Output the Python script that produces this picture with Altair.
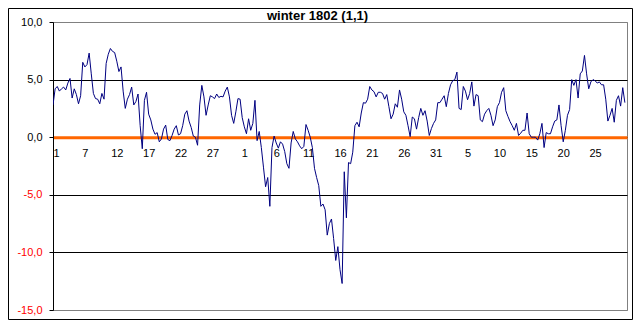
import altair as alt
import pandas as pd

# observations (3 per day), Dec 1801 .. Feb 1802
values = [
    2.8, 4.2, 4.4, 4.0, 4.2, 4.35, 4.1, 4.7, 5.1, 3.4,
    4.2, 3.7, 2.9, 3.6, 6.5, 6.1, 6.3, 7.3, 5.5, 3.8,
    3.35, 3.3, 2.9, 3.8, 3.3, 6.4, 7.2, 7.7, 7.45, 7.35,
    6.6, 5.7, 6.1, 4.0, 2.5, 3.3, 3.7, 4.35, 2.8, 3.1,
    3.75, 1.0, -1.0, 3.2, 3.9, 2.0, 1.5, 0.7, 0.25, 0.4,
    -0.4, -0.15, 0.7, 1.05, -0.2, -0.3, 0.15, 0.7, 1.0, 0.2,
    0.3, 1.0, 2.0, 2.3, 1.4, 0.85, 0.1, 0.0, -0.7, 2.8,
    4.5, 3.5, 1.9, 2.8, 3.6, 3.5, 3.35, 3.75, 3.45, 3.55,
    3.5, 4.0, 4.35, 3.5, 1.9, 1.2, 2.2, 3.35, 3.3, 1.7,
    0.9, 0.3, 1.6, 0.6, 1.2, 3.2, -0.3, 0.5, -0.9, -2.6,
    -4.3, -3.5, -6.0, -0.9, 0.1, -0.5, -0.95, -0.4, -0.6, -1.25,
    -2.3, -2.7, -0.5, 0.5, -0.15, -0.4, -0.75, -1.0, -0.8, 1.1,
    0.6, 0.0, -0.9, -2.7, -3.5, -4.2, -6.0, -5.8, -6.3, -8.5,
    -7.5, -7.1, -8.8, -10.7, -9.5, -11.5, -12.7, -3.0, -7.0, -2.2,
    -2.3, -1.3, 1.0, 1.3, 0.9, 2.1, 3.0, 2.95, 3.3, 4.4,
    4.1, 3.95, 3.5, 3.9, 3.9, 3.8, 3.3, 3.7, 2.65, 1.6,
    2.0, 2.9, 2.6, 4.1, 3.3, 2.2, 1.9, 1.0, 0.05, 1.75,
    1.6, 0.7, 1.7, 2.5, 1.9, 2.3, 1.4, 0.15, 0.75, 1.2,
    1.5, 3.0, 3.0, 3.3, 3.6, 2.65, 3.8, 4.55, 4.9, 5.0,
    5.65, 2.5, 2.4, 4.4, 4.0, 3.25, 3.8, 4.8, 2.7, 3.7,
    3.6, 1.5, 1.35, 2.0, 2.3, 2.5, 1.9, 1.0, 1.5, 2.65,
    3.0, 3.9, 4.3, 2.3, 1.8, 1.35, 1.0, 0.6, 1.2, 0.15,
    0.35, 0.6, 0.6, 2.1, 0.3, 0.0, 0.0, 0.0, -0.25, 0.3,
    1.2, -0.9, 0.4, 0.3, 0.3, 0.9, 1.4, 1.5, 2.8, 1.0,
    -0.4, 0.6, 1.9, 2.4, 5.0, 4.5, 5.0, 3.4, 5.5, 5.75,
    7.1, 5.5, 4.2, 4.8, 5.0, 4.9, 4.7, 4.8, 4.55, 4.55,
    3.3, 1.4, 1.9, 2.5, 1.3, 3.2, 3.6, 2.7, 4.3, 3.0,
]

day_labels = ["1", "7", "12", "17", "22", "27", "1", "6", "11", "16",
              "21", "26", "31", "5", "10", "15", "20", "25"]
label_step = 15
tick_pos = [i * label_step for i in range(len(day_labels))]
y_ticks = [-15, -10, -5, 0, 5, 10]
title_text = ["winter 1802 (1,1)"]

df = pd.DataFrame({"obs": list(range(len(values))), "value": values})

W, H = 574, 288
FONT = "Liberation Sans"
Y_MIN, Y_MAX = -15, 10
zero_from_bottom = H * (0 - Y_MIN) / (Y_MAX - Y_MIN)

label_expr = "[" + ",".join("'%s'" % d for d in day_labels) + "][round(datum.value / %d)]" % label_step

x_enc = alt.X(
    "obs:Q",
    scale=alt.Scale(domain=[0, 270], nice=False, zero=False),
    axis=alt.Axis(
        values=tick_pos,
        labelExpr=label_expr,
        title=None,
        grid=False,
        ticks=False,
        domainColor="#ff6600",
        domainWidth=3,
        offset=-zero_from_bottom,
        labelFont=FONT,
        labelFontSize=11,
        labelColor="black",
        labelPadding=10,
        labelAngle=0,
    ),
)

y_enc = alt.Y(
    "value:Q",
    scale=alt.Scale(domain=[Y_MIN, Y_MAX], nice=False, zero=False),
    axis=alt.Axis(
        values=y_ticks,
        labelExpr="(datum.value < 0 ? '-' : '') + replace(format(abs(datum.value), '.1f'), '.', ',')",
        title=None,
        grid=True,
        gridColor={"condition": {"test": "datum.value == 10 || datum.value == -15", "value": "#808080"},
                   "value": "black"},
        gridWidth=1,
        gridOpacity=1,
        domainColor="black",
        domainWidth=1,
        tickColor="black",
        tickSize=4,
        labelFont=FONT,
        labelFontSize=11,
        labelColor={"condition": {"test": "datum.value < 0", "value": "#ff0000"}, "value": "black"},
        labelPadding=7,
    ),
)

line = alt.Chart(df).mark_line(color="#000080", strokeWidth=1, clip=True).encode(x=x_enc, y=y_enc)

frame = alt.Chart(pd.DataFrame({"k": [0]})).mark_rect(
    fill="white", fillOpacity=0, stroke="black", strokeWidth=1, clip=False
).encode(
    x=alt.value(-44.5), x2=alt.value(579.5), y=alt.value(-13.5), y2=alt.value(297.5)
)

title = alt.Chart(pd.DataFrame({"t": title_text})).mark_text(
    font=FONT, fontSize=13, fontWeight="bold", color="black",
    align="center", baseline="middle", clip=False
).encode(
    text="t:N", x=alt.value(264.5), y=alt.value(-6)
)

chart = alt.layer(frame, line, title).properties(
    width=W,
    height=H,
    autosize="none",
    padding={"left": 45, "top": 14, "right": 8, "bottom": 12},
    background="white",
).configure_view(stroke="#808080", strokeWidth=1)

chart.save("out.html", embed_options={"renderer": "svg", "actions": False})
